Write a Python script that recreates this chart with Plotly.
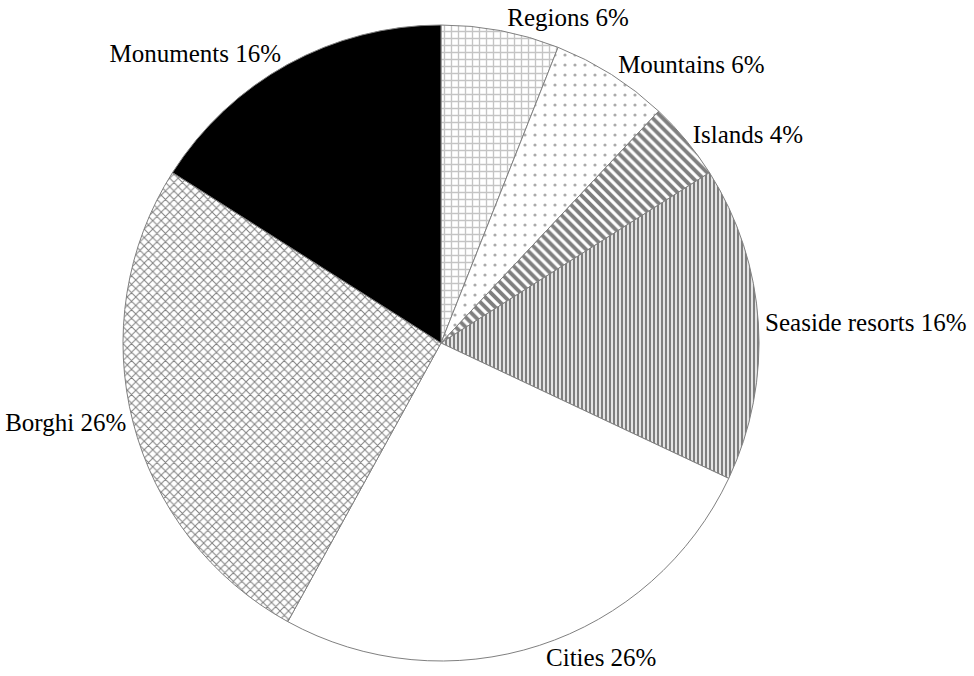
import plotly.graph_objects as go

labels = ["Regions", "Mountains", "Islands", "Seaside resorts", "Cities", "Borghi", "Monuments"]
values = [6, 6, 4, 16, 26, 26, 16]
shapes = ["+", ".", "\\", "|", "", "x", ""]
fgcolors = ["#8a8a8a", "#555555", "#000000", "#000000", "#000000", "#000000", "#000000"]
bgcolors = ["#ffffff", "#ffffff", "#ffffff", "#ffffff", "#ffffff", "#ffffff", "#000000"]
sizes = [7, 10, 7, 4, 8, 6, 8]
solidity = [0.35, 0.08, 0.55, 0.6, 0.3, 0.3, 0.3]

fig = go.Figure(go.Pie(
    labels=labels,
    values=values,
    sort=False,
    direction="clockwise",
    rotation=0,
    texttemplate="%{label} %{value}%",
    textposition="outside",
    textfont=dict(family="Liberation Serif", size=25, color="#000000"),
    marker=dict(
        colors=bgcolors,
        line=dict(color="#808080", width=1),
        pattern=dict(shape=shapes, fgcolor=fgcolors, bgcolor=bgcolors,
                     size=sizes, solidity=solidity, fillmode="overlay"),
    ),
    showlegend=False,
    hoverinfo="label+value",
))

fig.update_layout(
    width=974, height=676,
    margin=dict(l=123, r=215, t=25, b=15),
    paper_bgcolor="#ffffff",
    plot_bgcolor="#ffffff",
    font=dict(family="Liberation Serif", size=25, color="#000000"),
)

fig.write_html(
    "out.html",
    config={"displayModeBar": False},
    post_script="document.body.style.margin='0';document.body.style.overflow='hidden';",
)
